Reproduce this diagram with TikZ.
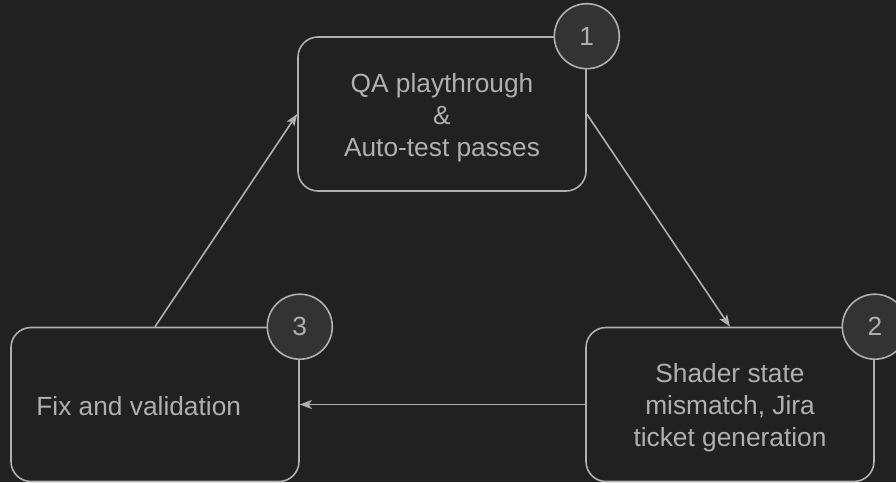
\documentclass[tikz,border=0pt]{standalone}
\usepackage{fontspec}
\setmainfont{Liberation Sans}
\usetikzlibrary{arrows.meta}
\definecolor{bg}{HTML}{212121}
\definecolor{edge}{HTML}{B0B0B0}
\definecolor{txt}{HTML}{B0B0B0}
\definecolor{badgefill}{HTML}{333333}

\begin{document}
\begin{tikzpicture}[x=1pt,y=-1pt,
  stepbox/.style={draw=edge, line width=1.6pt, fill=bg, rounded corners=20pt,
    minimum width=288pt, minimum height=154pt, inner sep=0pt},
  steptext/.style={inner sep=0pt, text=txt,
    font=\fontsize{26.3}{32}\selectfont, align=center},
  badge/.style={circle, draw=edge, line width=1.6pt, fill=badgefill,
    minimum size=65pt, inner sep=0pt, text=txt, font=\fontsize{26.3}{32}\selectfont},
  link/.style={draw=edge, line width=1.6pt,
    -{Stealth[length=12pt,width=9pt,inset=3pt]}}]

  % canvas
  \useasboundingbox (0,0) rectangle (896,482);
  \fill[bg] (0,0) rectangle (896,482);

  % process steps
  \node[stepbox] (qa) at (442,114) {};
  \node[stepbox] (shader) at (730,404.5) {};
  \node[stepbox] (fix) at (155,404.5) {};

  % step texts
  \node[steptext] (qatext) at ([yshift=-4pt]qa.center) {QA playthrough\\\&\\Auto-test passes};
  \node[steptext] (shadertext) at ([yshift=-3pt]shader.center) {Shader state\\mismatch, Jira\\ticket generation};
  \node[steptext, anchor=west] (fixtext) at ([xshift=26pt,yshift=-2pt]fix.west) {Fix and validation};

  % connectors
  \draw[link] (qa.east) -- (shader.north);
  \draw[link] (shader.west) -- (fix.east);
  \draw[link] (fix.north) -- (qa.west);

  % step numbers
  \node[badge] (n1) at (qa.north east) {1};
  \node[badge] (n2) at (shader.north east) {2};
  \node[badge] (n3) at (fix.north east) {3};
\end{tikzpicture}
\end{document}
